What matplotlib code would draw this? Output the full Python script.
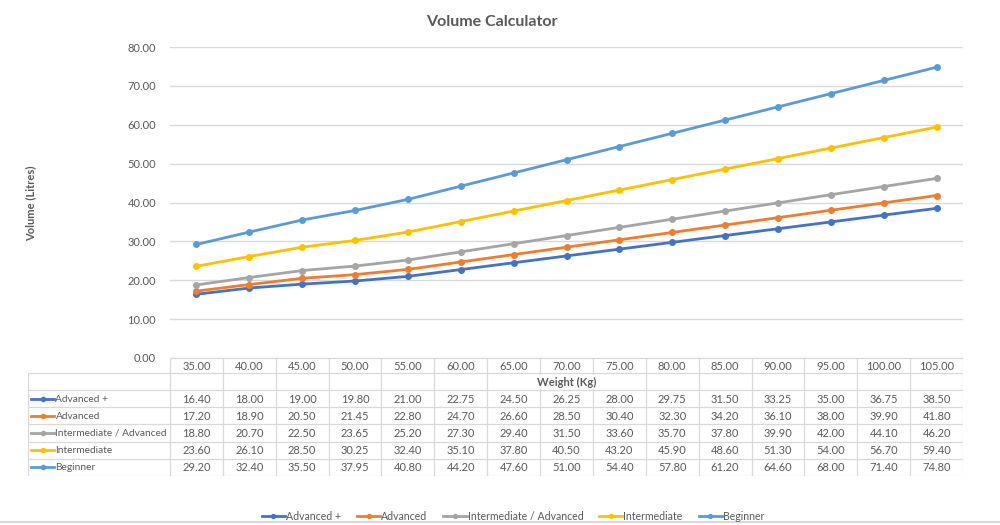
import matplotlib
matplotlib.use("Agg")
import matplotlib.pyplot as plt

plt.rcParams["font.family"] = ["Lato", "DejaVu Sans"]

TEXT = "#595959"
GRID = "#d9d9d9"

weights = [35, 40, 45, 50, 55, 60, 65, 70, 75, 80, 85, 90, 95, 100, 105]
series_names = ["Advanced +", "Advanced", "Intermediate / Advanced", "Intermediate", "Beginner"]
series_colors = ["#4472C4", "#ED7D31", "#A5A5A5", "#FFC000", "#5B9BD5"]

advanced_plus = [16.40, 18.00, 19.00, 19.80, 21.00, 22.75, 24.50, 26.25, 28.00, 29.75, 31.50, 33.25, 35.00, 36.75, 38.50]
advanced = [17.20, 18.90, 20.50, 21.45, 22.80, 24.70, 26.60, 28.50, 30.40, 32.30, 34.20, 36.10, 38.00, 39.90, 41.80]
inter_adv = [18.80, 20.70, 22.50, 23.65, 25.20, 27.30, 29.40, 31.50, 33.60, 35.70, 37.80, 39.90, 42.00, 44.10, 46.20]
intermediate = [23.60, 26.10, 28.50, 30.25, 32.40, 35.10, 37.80, 40.50, 43.20, 45.90, 48.60, 51.30, 54.00, 56.70, 59.40]
beginner = [29.20, 32.40, 35.50, 37.95, 40.80, 44.20, 47.60, 51.00, 54.40, 57.80, 61.20, 64.60, 68.00, 71.40, 74.80]
all_series = [advanced_plus, advanced, inter_adv, intermediate, beginner]

W, H = 1000, 525
fig = plt.figure(figsize=(10, 5.25), dpi=100)
fig.patch.set_facecolor("white")

# main plot area (pixel positions converted to figure fractions)
px_left, px_right, px_top, px_bot = 170, 963, 47, 358
ax = fig.add_axes([px_left / W, 1 - px_bot / H, (px_right - px_left) / W, (px_bot - px_top) / H])
n = len(weights)
xs = list(range(n))
handles = []
for name, color, vals in zip(series_names, series_colors, all_series):
    h, = ax.plot(xs, vals, color=color, lw=2.0, marker="o", markersize=4, label=name)
    handles.append(h)
ax.set_xlim(-0.5, n - 0.5)
ax.set_ylim(0, 80)
ax.set_yticks(range(0, 81, 10))
ax.set_yticklabels([f"{v:.2f}" for v in range(0, 81, 10)], fontsize=8, color=TEXT)
ax.set_xticks([])
ax.grid(axis="y", color=GRID, lw=1)
ax.set_axisbelow(True)
ax.tick_params(axis="y", length=0, pad=10)
for s in ax.spines.values():
    s.set_visible(False)

# data table drawn below the plot
t_left, t_top, t_bot = 28, 358, 476
col_w = (px_right - px_left) / n
lab_w = (px_left - t_left) / col_w
axt = fig.add_axes([t_left / W, 1 - t_bot / H, (px_right - t_left) / W, (t_bot - t_top) / H])
axt.set_xlim(-0.5 - lab_w, n - 0.5)
axt.set_ylim(t_bot, t_top)
axt.axis("off")

hdr_b = 373
wt_b = 390
row_h = (t_bot - wt_b) / len(series_names)
row_edges = [wt_b + i * row_h for i in range(len(series_names) + 1)]

lc = dict(color=GRID, lw=0.9)
axt.hlines(t_top, -0.5, n - 0.5, **lc)
axt.hlines([hdr_b] + row_edges, -0.5 - lab_w, n - 0.5, **lc)
axt.vlines(-0.5 - lab_w, hdr_b, t_bot, **lc)
for i in range(n + 1):
    x = i - 0.5
    axt.vlines(x, t_top, t_bot, **lc)

for i, w in enumerate(weights):
    axt.text(i, (t_top + hdr_b) / 2 + 0.5, f"{w:.2f}", ha="center", va="center", fontsize=8, color=TEXT)

axt.text((n - 1) / 2, (hdr_b + wt_b) / 2 + 0.5, "Weight (Kg)", ha="center", va="center",
         fontsize=8, fontweight="bold", color=TEXT,
         bbox=dict(facecolor="white", edgecolor="none", pad=1))

for r, (name, color, vals) in enumerate(zip(series_names, series_colors, all_series)):
    yc = (row_edges[r] + row_edges[r + 1]) / 2
    x0 = -0.5 - lab_w + 0.05
    axt.plot([x0, x0 + 0.45], [yc, yc], color=color, lw=2)
    axt.plot([x0 + 0.225], [yc], color=color, marker="o", markersize=3)
    axt.text(x0 + 0.47, yc + 0.5, name, ha="left", va="center", fontsize=7.3, color=TEXT)
    for i, v in enumerate(vals):
        axt.text(i, yc + 0.5, f"{v:.2f}", ha="center", va="center", fontsize=8, color=TEXT)

fig.text(0.492, 1 - 22 / H, "Volume Calculator", ha="center", va="center",
         fontsize=11.5, fontweight="bold", color=TEXT)
fig.text(0.031, 1 - 203 / H, "Volume (Litres)", ha="center", va="center", rotation=90,
         fontsize=8, fontweight="bold", color=TEXT)

leg = fig.legend(handles=handles, loc="center", bbox_to_anchor=(0.513, 1 - 516 / H), ncol=5,
                 frameon=False, fontsize=7.6, handlelength=2.2, columnspacing=1.5, handletextpad=0.1,
                 markerscale=0.7)
for t in leg.get_texts():
    t.set_color(TEXT)

fig.add_artist(plt.Line2D([0, 1], [1 - 522 / H] * 2, color=GRID, lw=1.5))

fig.savefig("out.png", dpi=100, facecolor="white")
